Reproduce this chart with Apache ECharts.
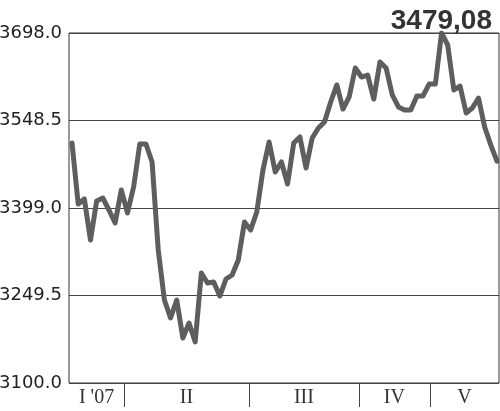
<!DOCTYPE html>
<html>
<head>
<meta charset="utf-8">
<script src="https://cdn.jsdelivr.net/npm/echarts@6/dist/echarts.min.js"></script>
<style>
  html, body { margin: 0; padding: 0; background: #fff; }
  #chart { width: 500px; height: 411px; }
</style>
</head>
<body>
<div id="chart"></div>
<script>
// index closing values, one per session
var values = [
  3510.1, 3405.8, 3414.4, 3344.3, 3411.0, 3416.1, 3395.6, 3373.4, 3429.8, 3390.5,
  3434.9, 3508.3, 3508.3, 3477.6, 3327.2, 3241.8, 3211.1, 3241.8, 3176.9, 3202.5,
  3170.1, 3287.9, 3270.9, 3272.6, 3248.6, 3277.7, 3284.5, 3310.2, 3375.1, 3361.4,
  3392.2, 3463.9, 3511.8, 3460.5, 3477.6, 3440.0, 3510.1, 3520.3, 3467.3, 3518.6,
  3535.7, 3545.9, 3580.1, 3609.2, 3568.1, 3588.7, 3638.2, 3622.8, 3626.2, 3585.2,
  3648.5, 3638.2, 3592.1, 3571.6, 3566.4, 3566.4, 3590.4, 3590.4, 3610.9, 3610.9,
  3698.0, 3677.5, 3600.6, 3607.4, 3561.3, 3569.9, 3586.9, 3537.4, 3506.6, 3479.08
];

var lastLabel = '3479,08';

// month labels and where each month ends (in session index units)
var months = ["I '07", 'II', 'III', 'IV', 'V'];
var monthEdges = [8.45, 28.7, 46.6, 58.1];
var xMin = -0.49, xMax = 69.33;

var yTicks = [3100.0, 3249.5, 3399.0, 3548.5, 3698.0];

document.addEventListener('DOMContentLoaded', function() {
    var myChart = echarts.init(document.getElementById('chart'));

    // label sits in the middle of each month span
    var bounds = [xMin].concat(monthEdges, [xMax]);
    var mids = [];
    for (var i = 0; i < months.length; i++) {
        mids.push((bounds[i] + bounds[i + 1]) / 2);
    }

    var option = {
        animation: false,
        title: {
            text: lastLabel,
            right: 3,
            top: 2,
            textStyle: {
                fontFamily: 'Liberation Sans',
                fontSize: 28,
                fontWeight: 'bold',
                color: '#333'
            }
        },
        grid: {
            left: 69, right: 1, top: 33, bottom: 28,
            outerBoundsMode: 'none',
            show: true,
            borderColor: '#333',
            borderWidth: 1
        },
        xAxis: {
            type: 'value',
            min: xMin,
            max: xMax,
            axisLine: { show: false },
            splitLine: { show: false },
            axisTick: {
                show: true,
                customValues: monthEdges,
                length: 24,
                lineStyle: { color: '#444', width: 1 }
            },
            axisLabel: {
                customValues: mids,
                margin: 5,
                fontFamily: 'Liberation Serif',
                fontSize: 20,
                color: '#333',
                formatter: function(v) {
                    for (var k = 0; k < mids.length; k++) {
                        if (Math.abs(mids[k] - v) < 0.01) return months[k];
                    }
                    return '';
                }
            }
        },
        yAxis: {
            type: 'value',
            min: 3100,
            max: 3698,
            axisLine: { show: false },
            axisTick: { show: false, customValues: yTicks },
            splitLine: { show: true, lineStyle: { color: '#444', width: 1 } },
            axisLabel: {
                customValues: yTicks,
                margin: 7,
                fontFamily: 'DejaVu Sans',
                fontSize: 18,
                color: '#222',
                formatter: function(v) { return v.toFixed(1); }
            }
        },
        series: [
            {
                type: 'line',
                data: values.map(function(v, i) { return [i, v]; }),
                symbol: 'none',
                lineStyle: { color: '#5e5e5e', width: 5, join: 'round', cap: 'round' }
            }
        ]
    };

    option && myChart.setOption(option);
});
</script>
</body>
</html>
